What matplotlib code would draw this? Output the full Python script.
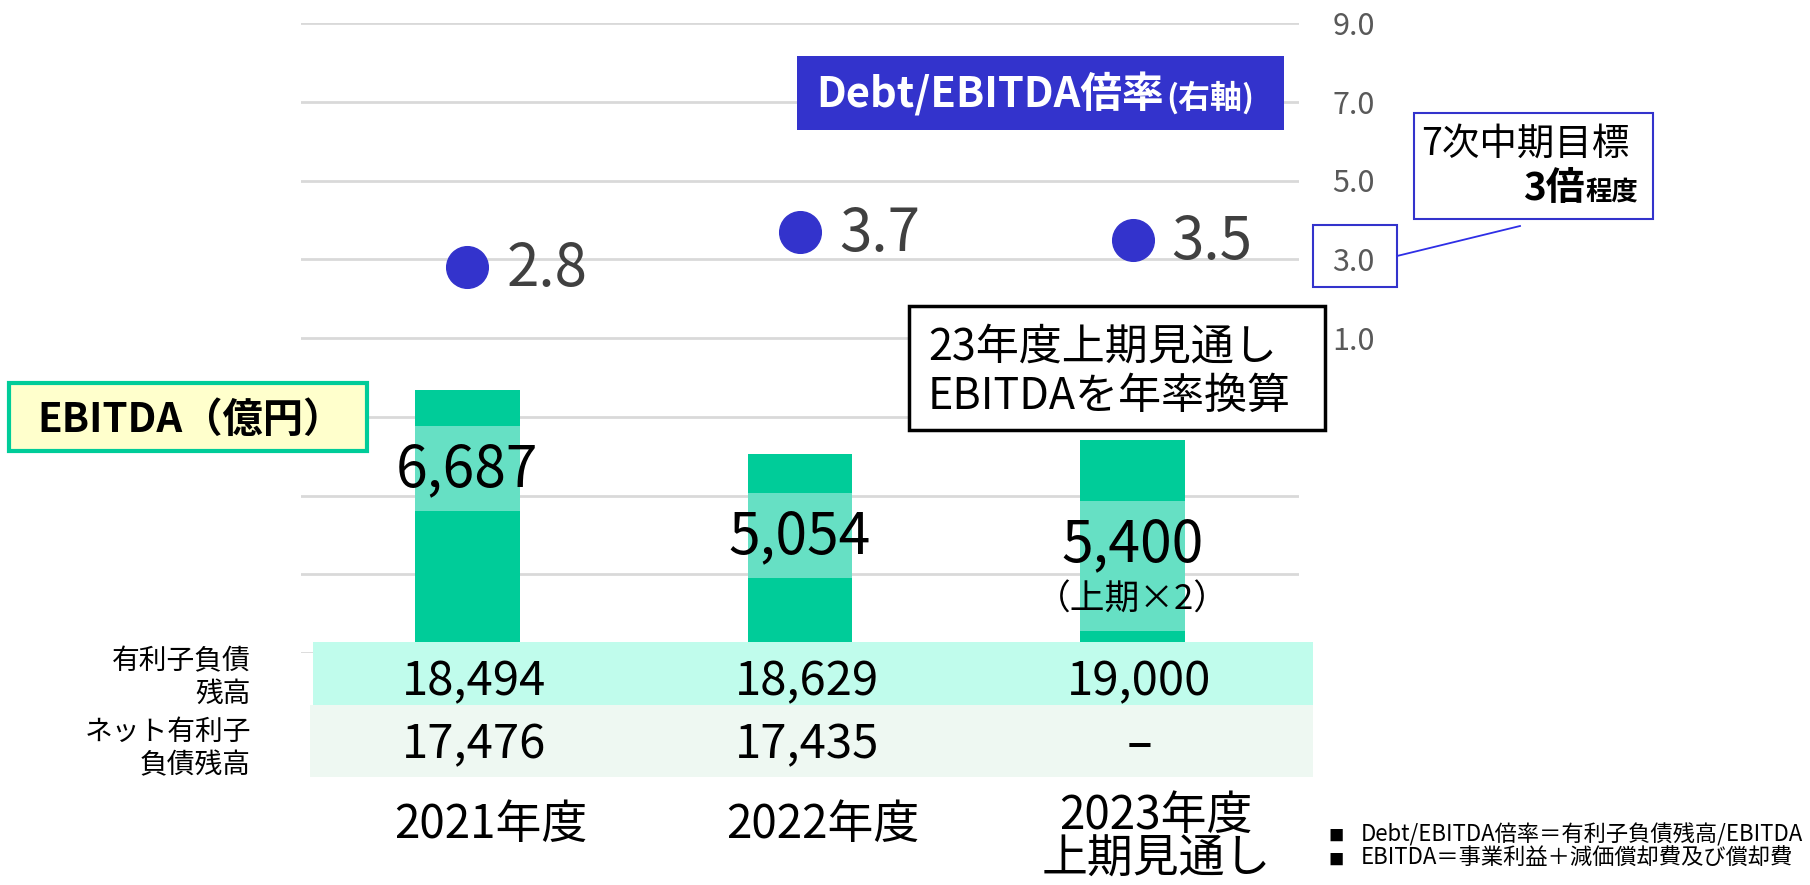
import matplotlib
matplotlib.use("Agg")
import matplotlib.pyplot as plt
import matplotlib.transforms as mtransforms
from matplotlib.patches import Rectangle
from matplotlib.lines import Line2D
import numpy as np

plt.rcParams['font.family'] = ['Noto Sans CJK JP', 'DejaVu Sans']

# data
years = ["2021年度", "2022年度", "2023年度\n上期見通し"]
ebitda = [6687, 5054, 5400]
ebitda_text = ["6,687", "5,054", "5,400"]
ebitda_note = ["", "", "（上期×2）"]
debt_ratio = [2.8, 3.7, 3.5]
debt_total = ["18,494", "18,629", "19,000"]
net_debt = ["17,476", "17,435", "–"]
row_names = ["有利子負債\n残高", "ネット有利子\n負債残高"]
right_ticks = [1.0, 3.0, 5.0, 7.0, 9.0]
notes = ["Debt/EBITDA倍率＝有利子負債残高/EBITDA", "EBITDA＝事業利益＋減価償却費及び償却費"]

# label placement inside bars (value units of left axis)
label_y = [4650, 2950, 2750]
band_lo = [3600, 1900, 560]
band_hi = [5760, 4060, 3860]

GREEN = "#00cc99"
LIGHT = "#66e0c4"
BLUE = "#3333cc"

W, H = 1810, 885
fig = plt.figure(figsize=(W / 100, H / 100), dpi=100)


def fx(x):
    return x / W


def fy(y):
    return 1 - y / H


def box(x0, y0, x1, y1, **kw):
    r = Rectangle((fx(x0), fy(y1)), fx(x1) - fx(x0), fy(y0) - fy(y1),
                  transform=fig.transFigure, **kw)
    fig.patches.append(r)


def ftext(x, y, s, **kw):
    fig.text(fx(x), fy(y), s, **kw)


ax = fig.add_axes([fx(301), fy(653), fx(1299) - fx(301), fy(23) - fy(653)])
ax2 = ax.twinx()

x = np.arange(len(years))
ax.bar(x, ebitda, width=0.315, color=GREEN, zorder=2)
ax.bar(x, np.array(band_hi) - np.array(band_lo), bottom=band_lo, width=0.315,
       color=LIGHT, zorder=3)
for i in range(len(x)):
    ax.text(x[i], label_y[i], ebitda_text[i], ha="center", va="center",
            fontsize=41, color="black", zorder=4)
    if ebitda_note[i]:
        ax.text(x[i], label_y[i] - 1400, ebitda_note[i], ha="center", va="center",
                fontsize=25, color="black", zorder=4)

ax.set_xlim(-0.5, 2.5)
ax.set_ylim(0, 16000)
ax.set_yticks(np.arange(0, 16001, 2000))
ax.set_yticklabels([])
ax.set_xticks([])
ax.tick_params(length=0)
ax.yaxis.grid(True, color="#d9d9d9", lw=2)
ax.set_axisbelow(True)
for s in ax.spines.values():
    s.set_visible(False)

ax2.set_ylim(-7, 9)
ax2.set_yticks(right_ticks)
ax2.set_yticklabels([f"{t:.1f}" for t in right_ticks])
ax2.tick_params(length=0, pad=24, labelsize=22, labelcolor="#595959")
for s in ax2.spines.values():
    s.set_visible(False)
ax2.scatter(x, debt_ratio, s=900, color=BLUE, zorder=5)
for i in range(len(x)):
    ax2.annotate(f"{debt_ratio[i]:.1f}", (x[i], debt_ratio[i]), xytext=(28, -2),
                 textcoords="offset points", ha="left", va="center",
                 fontsize=42, color="#404040")

# table rows
box(313, 642, 1313, 705, facecolor="#c0fcec", edgecolor="none")
box(310, 705, 1313, 777, facecolor="#eef8f2", edgecolor="none")
tr = mtransforms.blended_transform_factory(ax.transData, fig.transFigure)
for i in range(len(x)):
    fig.text(x[i] + 0.02, fy(695), debt_total[i], transform=tr, ha="center",
             va="baseline", fontsize=34)
    fig.text(x[i] + 0.02, fy(758), net_debt[i], transform=tr, ha="center",
             va="baseline", fontsize=34, fontweight="bold" if net_debt[i] == "–" else "normal")
row_base = [(669, 702), (740, 773)]
for name, bases in zip(row_names, row_base):
    for line, b in zip(name.split("\n"), bases):
        ftext(251, b, line, ha="right", va="baseline", fontsize=20)

# category labels
for i, name in enumerate(years):
    lines = name.split("\n")
    b0 = 838 if len(lines) == 1 else 829
    for j, line in enumerate(lines):
        fig.text(x[i] + 0.07, fy(b0 + j * 44), line, transform=tr, ha="center",
                 va="baseline", fontsize=33)

# Debt/EBITDA box
box(797, 56, 1284, 130, facecolor=BLUE, edgecolor="none")
ftext(1164, 108, "Debt/EBITDA倍率", ha="right", va="baseline", fontsize=30,
      fontweight="bold", color="white")
ftext(1166, 108, "(右軸)", ha="left", va="baseline", fontsize=23,
      fontweight="bold", color="white")

# target box
box(1414, 113, 1653, 219, facecolor="white", edgecolor=BLUE, lw=1.5)
ftext(1421, 155, "7次中期目標", ha="left", va="baseline", fontsize=27)
ftext(1585, 200, "3倍", ha="right", va="baseline", fontsize=28, fontweight="bold")
ftext(1585, 200, "程度", ha="left", va="baseline", fontsize=19, fontweight="bold")
box(1313, 225, 1397, 287, facecolor="none", edgecolor=BLUE, lw=1.5)
fig.lines.append(Line2D([fx(1397), fx(1520)], [fy(256), fy(226)],
                        transform=fig.transFigure, color="#2e2ee6", lw=1.3))

# annualised note box
box(909, 306, 1325, 430, facecolor="white", edgecolor="black", lw=2.5)
ftext(928, 360, "23年度上期見通し", ha="left", va="baseline", fontsize=31)
ftext(928, 409, "EBITDAを年率換算", ha="left", va="baseline", fontsize=31)

# EBITDA label box
box(9, 383, 367, 451, facecolor="#ffffcc", edgecolor=GREEN, lw=3)
ftext(37, 432, "EBITDA（億円）", ha="left", va="baseline", fontsize=29,
      fontweight="bold")

# footnotes
for k, note in enumerate(notes):
    b = 841 + k * 24
    ftext(1328, b, "■", ha="left", va="baseline", fontsize=11)
    ftext(1361, b, note, ha="left", va="baseline", fontsize=16)

fig.savefig("out.png", dpi=100)
